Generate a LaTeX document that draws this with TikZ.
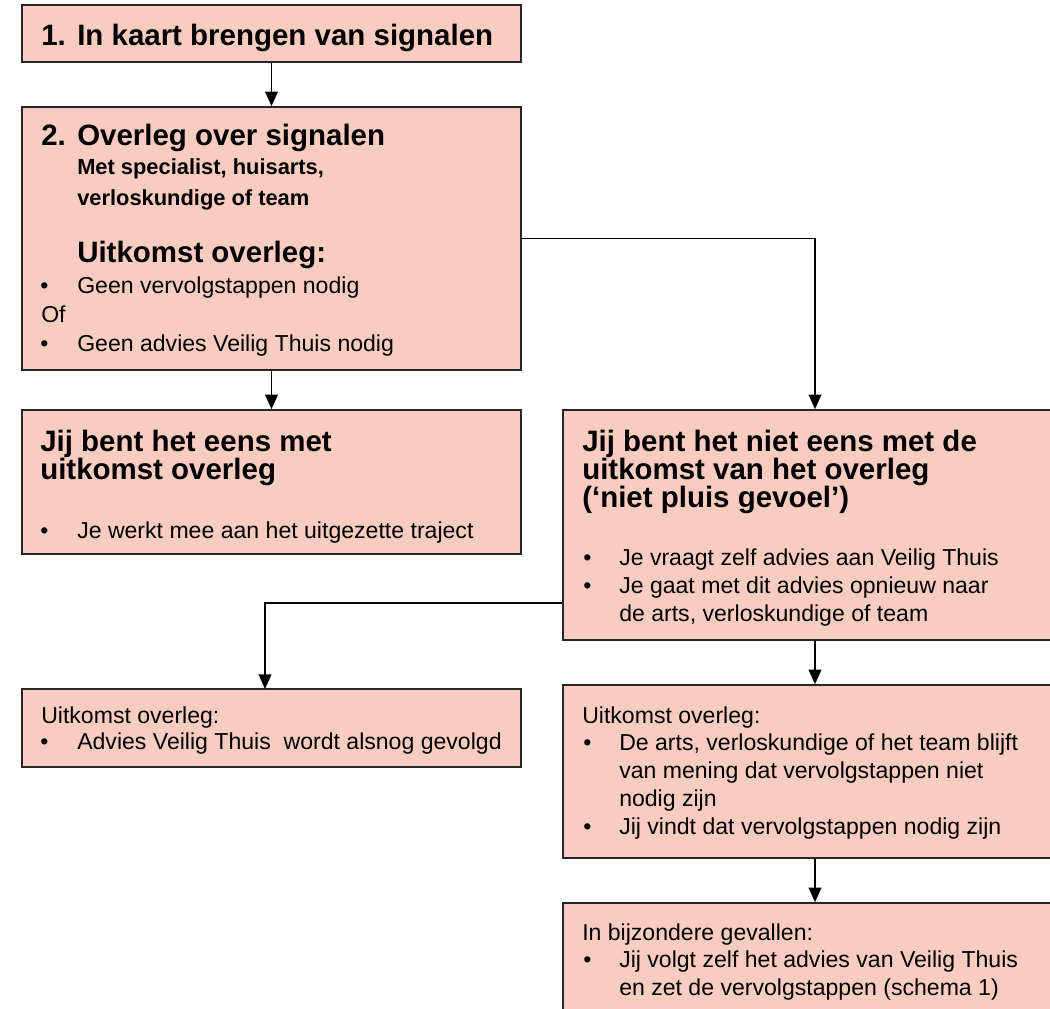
\documentclass[tikz,border=0pt]{standalone}
\usepackage{fontspec}
\setmainfont{Liberation Sans}
\usetikzlibrary{arrows.meta,fit,calc}
\definecolor{boxfill}{HTML}{F8CCC1}
\definecolor{edgecol}{HTML}{262626}
\tikzset{
 box/.style={draw=edgecol, fill=boxfill, line width=1.2pt, inner sep=0pt, rectangle},
 arr/.style={draw=black, line width=1.35pt, -{Triangle[length=11pt,width=9.5pt]}},
 hd/.style={anchor=base west, inner sep=0pt, font=\fontsize{22.1pt}{24pt}\selectfont\bfseries},
 sb/.style={anchor=base west, inner sep=0pt, font=\fontsize{16.4pt}{19pt}\selectfont\bfseries},
 tx/.style={anchor=base west, inner sep=0pt, font=\fontsize{17.3pt}{20pt}\selectfont},
}
\begin{document}
\begin{tikzpicture}[x=0.75pt,y=-0.75pt]
\useasboundingbox (0,0) rectangle (1050,1008);
\clip (0,0) rectangle (1050,1008);
\fill[white] (0,0) rectangle (1050,1008);

% boxes
\node[box, fit={(22,5) (521,62)}] (b1) {};
\node[box, fit={(22,107) (521,370)}] (b2) {};
\node[box, fit={(22,410) (521,554)}] (b3) {};
\node[box, fit={(563,410) (1067,640)}] (b4) {};
\node[box, fit={(22,689) (521,767)}] (b6) {};
\node[box, fit={(563,685) (1067,858)}] (b7) {};
\node[box, fit={(563,903) (1067,1040)}] (b8) {};

% box 1
\node[hd] (t1n) at (41,45) {1.};
\node[hd] (t1) at (77,45) {In kaart brengen van signalen};

% box 2
\node[hd] (t2n) at (41,145) {2.};
\node[hd] (t2) at (77,145) {Overleg over signalen};
\node[sb] (t2a) at (77,174) {Met specialist, huisarts,};
\node[sb] (t2b) at (77,205) {verloskundige of team};
\node[hd] (t2c) at (77,262) {Uitkomst overleg:};
\node[tx] (t2db) at (40,293) {•};
\node[tx] (t2d) at (77,293) {Geen vervolgstappen nodig};
\node[tx] (t2e) at (41,322) {Of};
\node[tx] (t2fb) at (40,351) {•};
\node[tx] (t2f) at (77,351) {Geen advies Veilig Thuis nodig};

% box 3
\node[hd] (t3a) at (40,451) {Jij bent het eens met};
\node[hd] (t3b) at (40,479) {uitkomst overleg};
\node[tx] (t3cb) at (40,538) {•};
\node[tx] (t3c) at (77,538) {Je werkt mee aan het uitgezette traject};

% box 4
\node[hd] (t4a) at (582,451) {Jij bent het niet eens met de};
\node[hd] (t4b) at (582,479) {uitkomst van het overleg};
\node[hd] (t4c) at (582,507) {(‘niet pluis gevoel’)};
\node[tx] (t4db) at (583,565) {•};
\node[tx] (t4d) at (619,565) {Je vraagt zelf advies aan Veilig Thuis};
\node[tx] (t4eb) at (583,593) {•};
\node[tx] (t4e) at (619,593) {Je gaat met dit advies opnieuw naar};
\node[tx] (t4f) at (619,621) {de arts, verloskundige of team};

% box 6
\node[tx] (t6a) at (41,723) {Uitkomst overleg:};
\node[tx] (t6bb) at (40,749) {•};
\node[tx] (t6b) at (77,749) {Advies Veilig Thuis~ wordt alsnog gevolgd};

% box 7
\node[tx] (t7a) at (582,723) {Uitkomst overleg:};
\node[tx] (t7bb) at (583,750) {•};
\node[tx] (t7b) at (619,750) {De arts, verloskundige of het team blijft};
\node[tx] (t7c) at (619,778) {van mening dat vervolgstappen niet};
\node[tx] (t7d) at (619,806) {nodig zijn};
\node[tx] (t7eb) at (583,834) {•};
\node[tx] (t7e) at (619,834) {Jij vindt dat vervolgstappen nodig zijn};

% box 8
\node[tx] (t8a) at (582,940) {In bijzondere gevallen:};
\node[tx] (t8bb) at (583,967) {•};
\node[tx] (t8b) at (619,967) {Jij volgt zelf het advies van Veilig Thuis};
\node[tx] (t8c) at (619,995) {en zet de vervolgstappen (schema 1)};

% connectors
\coordinate (k6) at (265,689);
\draw[arr] (b1.south) -- (b2.north);
\draw[arr] (b2.south) -- (b3.north);
\draw[arr] (b2.east) -| (b4.north);
\draw[arr] ($(b4.south west)+(0,-38)$) -| (k6);
\draw[arr] (b4.south) -- (b7.north);
\draw[arr] (b7.south) -- (b8.north);
\end{tikzpicture}
\end{document}
